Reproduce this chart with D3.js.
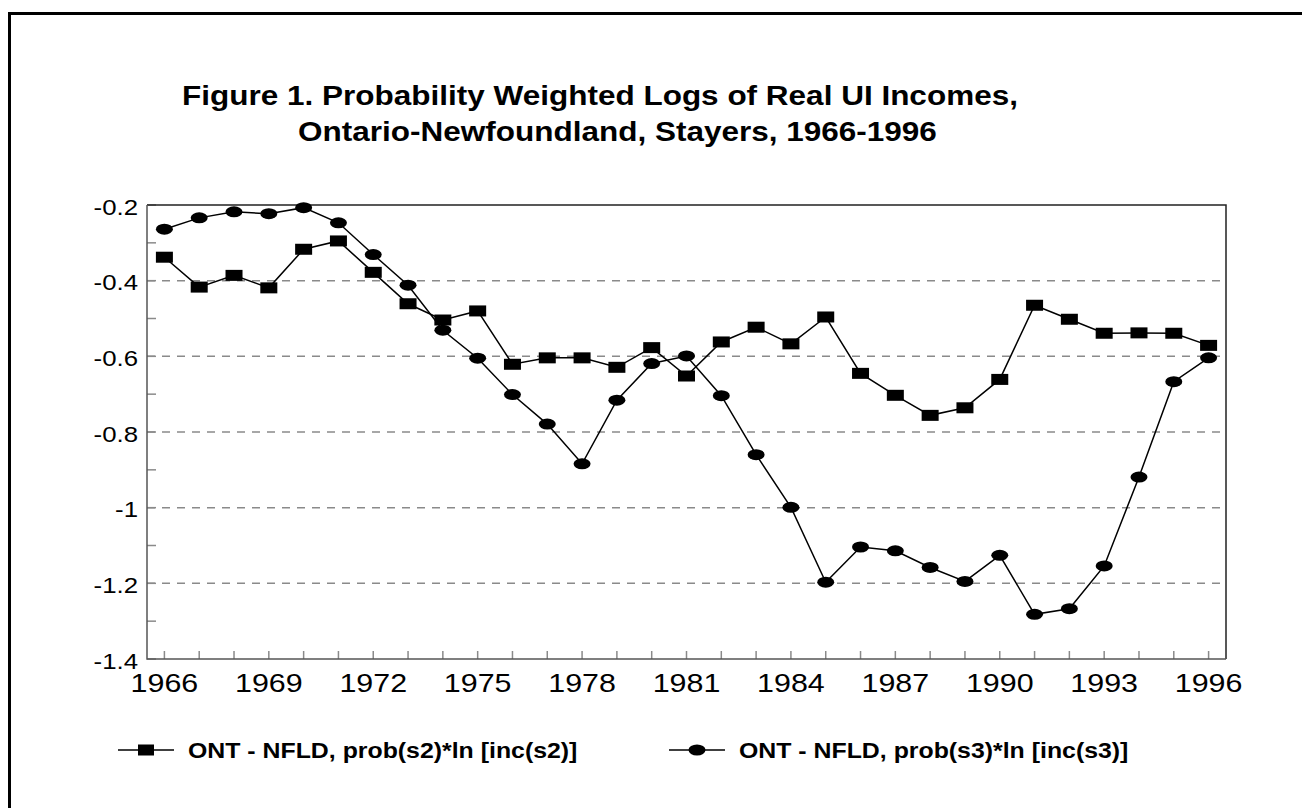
<!DOCTYPE html>
<html>
<head>
<meta charset="utf-8">
<script src="https://cdn.jsdelivr.net/npm/d3@7"></script>
<style>
  body { margin: 0; background: #fff; }
  text { font-family: "Liberation Sans", Arial, sans-serif; fill: #000; }
</style>
</head>
<body>
<svg id="chart" width="1302" height="808"></svg>
<script>
// data
const years = d3.range(1966, 1997);
const s2 = [-0.338, -0.417, -0.386, -0.419, -0.317, -0.295, -0.378, -0.461, -0.504, -0.480,
            -0.621, -0.604, -0.604, -0.629, -0.577, -0.652, -0.562, -0.523, -0.567, -0.496,
            -0.645, -0.703, -0.756, -0.736, -0.661, -0.465, -0.502, -0.539, -0.538, -0.539, -0.571];
const s3 = [-0.264, -0.234, -0.218, -0.223, -0.207, -0.247, -0.331, -0.412, -0.531, -0.605,
            -0.701, -0.779, -0.884, -0.716, -0.619, -0.599, -0.704, -0.860, -0.999, -1.197,
            -1.104, -1.114, -1.158, -1.195, -1.126, -1.282, -1.267, -1.154, -0.919, -0.667, -0.604];
const yLabels = [-0.2, -0.4, -0.6, -0.8, -1, -1.2, -1.4];
const yGrid = [-0.4, -0.6, -0.8, -1, -1.2];
const yMinor = [-0.3, -0.5, -0.7, -0.9, -1.1, -1.3];
const xLabels = d3.range(1966, 1997, 3);
const titleLines = ["Figure 1. Probability Weighted Logs of Real UI Incomes,",
                    "Ontario-Newfoundland, Stayers, 1966-1996"];
const legendLabels = ["ONT - NFLD, prob(s2)*ln [inc(s2)]", "ONT - NFLD, prob(s3)*ln [inc(s3)]"];

const svg = d3.select("#chart");
svg.append("rect").attr("width", 1302).attr("height", 808).attr("fill", "#fff");

// outer frame (left and top only visible)
svg.append("path")
    .attr("d", "M9.5,808 V13.5 H1302")
    .attr("fill", "none").attr("stroke", "#000").attr("stroke-width", 3);

// title
svg.selectAll(".title")
    .data(titleLines)
    .enter().append("text")
    .attr("class", "title")
    .attr("transform", (d, i) => i == 0 ? "translate(182,105) scale(1.125,1)" : "translate(298,141) scale(1.125,1)")
    .attr("font-size", 28).attr("font-weight", "bold")
    .text(d => d);

const pLeft = 147, pRight = 1226, pTop = 205, pBottom = 659;
const x = d3.scaleLinear().domain([1965.5, 1996.5]).range([pLeft, pRight]);
const y = d3.scaleLinear().domain([-1.4, -0.2]).range([pBottom, pTop]);

// gridlines
svg.selectAll(".grid")
    .data(yGrid)
    .enter().append("line")
    .attr("x1", pLeft).attr("x2", pRight)
    .attr("y1", d => y(d)).attr("y2", d => y(d))
    .attr("stroke", "#8a8a8a").attr("stroke-width", 1.5)
    .attr("stroke-dasharray", "8,7");

// y ticks (major + minor), inward
svg.selectAll(".ytick")
    .data(yLabels.concat(yMinor))
    .enter().append("line")
    .attr("x1", pLeft).attr("x2", pLeft + 9)
    .attr("y1", d => y(d)).attr("y2", d => y(d))
    .attr("stroke", "#8a8a8a").attr("stroke-width", 1.5);

// x ticks every year, inward
svg.selectAll(".xtick")
    .data(years)
    .enter().append("line")
    .attr("x1", d => x(d)).attr("x2", d => x(d))
    .attr("y1", pBottom).attr("y2", pBottom - 8)
    .attr("stroke", "#8a8a8a").attr("stroke-width", 1.5);

// plot frame
svg.append("path")
    .attr("d", `M${pLeft},${pTop} H${pRight} V${pBottom}`)
    .attr("fill", "none").attr("stroke", "#222").attr("stroke-width", 1.5);
svg.append("path")
    .attr("d", `M${pLeft},${pTop} V${pBottom} H${pRight}`)
    .attr("fill", "none").attr("stroke", "#555").attr("stroke-width", 1.5);

// axis labels
svg.selectAll(".ylab")
    .data(yLabels)
    .enter().append("text")
    .attr("transform", d => `translate(138,${y(d) + 9.5}) scale(1.2,1)`)
    .attr("text-anchor", "end")
    .attr("font-size", 21.5)
    .text(d => String(d));

svg.selectAll(".xlab")
    .data(xLabels)
    .enter().append("text")
    .attr("transform", d => `translate(${x(d)},692) scale(1.17,1)`)
    .attr("text-anchor", "middle")
    .attr("font-size", 26)
    .text(d => d);

// series
const line = d3.line().x((d, i) => x(years[i])).y(d => y(d));

svg.append("path").datum(s2)
    .attr("d", line).attr("fill", "none").attr("stroke", "#000").attr("stroke-width", 1.5);
svg.append("path").datum(s3)
    .attr("d", line).attr("fill", "none").attr("stroke", "#000").attr("stroke-width", 1.5);

svg.selectAll(".sq")
    .data(s2)
    .enter().append("rect")
    .attr("x", (d, i) => x(years[i]) - 8.5)
    .attr("y", d => y(d) - 5.5)
    .attr("width", 17).attr("height", 11)
    .attr("fill", "#000");

svg.selectAll(".dot")
    .data(s3)
    .enter().append("ellipse")
    .attr("cx", (d, i) => x(years[i]))
    .attr("cy", d => y(d))
    .attr("rx", 8.5).attr("ry", 5.5)
    .attr("fill", "#000");

// legend
const legY = 750;
const leg = svg.selectAll(".leg")
    .data(legendLabels)
    .enter().append("g")
    .attr("transform", (d, i) => i == 0 ? "translate(118,0)" : "translate(669,0)");

leg.append("line")
    .attr("x1", 0).attr("x2", 56)
    .attr("y1", legY).attr("y2", legY)
    .attr("stroke", "#000").attr("stroke-width", 1.5);

leg.filter((d, i) => i == 0).append("rect")
    .attr("x", 28 - 8).attr("y", legY - 5.5)
    .attr("width", 16).attr("height", 11).attr("fill", "#000");

leg.filter((d, i) => i == 1).append("ellipse")
    .attr("cx", 28).attr("cy", legY)
    .attr("rx", 8.5).attr("ry", 5.5).attr("fill", "#000");

leg.append("text")
    .attr("transform", `translate(70,${legY + 8}) scale(1.13,1)`)
    .attr("font-size", 22).attr("font-weight", "bold")
    .text(d => d);
</script>
</body>
</html>
